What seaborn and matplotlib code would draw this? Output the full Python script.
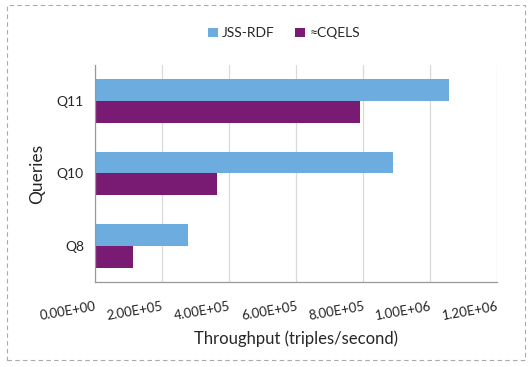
import pandas as pd
import numpy as np
import seaborn as sns
import matplotlib.pyplot as plt
from matplotlib.patches import Rectangle
from matplotlib.ticker import MultipleLocator

queries = ["Q11", "Q10", "Q8"]
jss_rdf = [1.058e6, 0.888e6, 0.277e6]
cqels = [0.791e6, 0.365e6, 0.114e6]
xticks = [0, 2e5, 4e5, 6e5, 8e5, 1e6, 1.2e6]
xtick_labels = ["0.00E+00", "2.00E+05", "4.00E+05", "6.00E+05", "8.00E+05", "1.00E+06", "1.20E+06"]

df = pd.DataFrame({
    "Query": queries * 2,
    "Throughput": jss_rdf + cqels,
    "System": ["JSS-RDF"] * 3 + ["\u2248CQELS"] * 3,
})

sns.set_style("white")
plt.rcParams['font.family'] = ['Lato', 'DejaVu Sans']

fig = plt.figure(figsize=(5.29, 3.67), dpi=100)
ax = fig.add_axes([0.1796, 0.2316, 0.76, 0.5913])

palette = {"JSS-RDF": "#6CACDE", "\u2248CQELS": "#7A1B73"}
sns.barplot(data=df, y="Query", x="Throughput", hue="System", order=queries,
            hue_order=["JSS-RDF", "\u2248CQELS"], palette=palette, orient="h",
            width=0.6, saturation=1, edgecolor="none", ax=ax)

ax.set_xlim(0, 1.2e6)
ax.set_ylim(2.5, -0.5)
ax.set_xticks(xticks)
ax.set_xticklabels(xtick_labels, rotation=10, ha="right", rotation_mode="anchor",
                   fontsize=9.5, color="#222222")
ax.tick_params(axis="x", length=4, color="#999999", pad=9)
ax.tick_params(axis="y", which="major", length=0, labelsize=10, pad=8)
ax.yaxis.set_minor_locator(MultipleLocator(1, offset=0.5))
ax.tick_params(axis="y", which="minor", length=4, color="#999999")
ax.grid(axis="x", color="#D9D9D9", linewidth=0.9)
ax.set_axisbelow(True)
for s in ["top", "right"]:
    ax.spines[s].set_visible(False)
for s in ["left", "bottom"]:
    ax.spines[s].set_color("#999999")
    ax.spines[s].set_linewidth(0.9)

ax.set_xlabel("Throughput (triples/second)", fontsize=12, labelpad=6)
ax.set_ylabel("Queries", fontsize=12.5, labelpad=8)

leg = ax.legend(loc="lower center", bbox_to_anchor=(0.47, 1.06), ncol=2, frameon=False,
                fontsize=10, handlelength=0.7, handleheight=0.7, handletextpad=0.3,
                columnspacing=1.5)

fig.patches.append(Rectangle((7 / 529, 7 / 367), 518 / 529, 355 / 367, transform=fig.transFigure,
                             fill=False, edgecolor="#AAAAAA", linestyle=(0, (4, 3)), linewidth=0.8))

fig.savefig("out.png", dpi=100)
